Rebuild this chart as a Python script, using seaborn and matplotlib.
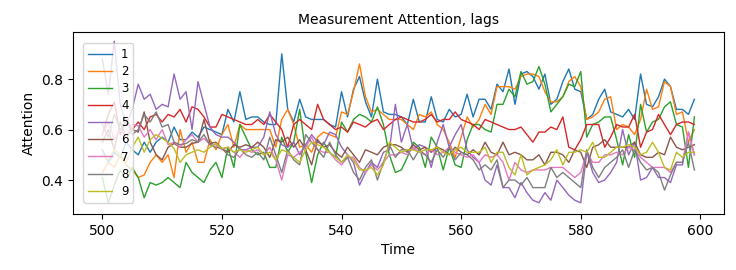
import numpy as np
import pandas as pd
import matplotlib
matplotlib.use("Agg")
from matplotlib import pyplot as plt
import seaborn as sns

# time axis
time = list(range(500, 600))
lags = ["1", "2", "3", "4", "5", "6", "7", "8", "9"]

# attention values per lag
lag1 = [0.52, 0.47, 0.51, 0.49, 0.55, 0.52, 0.50, 0.55, 0.51, 0.55,
        0.57, 0.55, 0.61, 0.56, 0.56, 0.59, 0.57, 0.61, 0.60, 0.59,
        0.58, 0.68, 0.63, 0.75, 0.64, 0.65, 0.65, 0.63, 0.62, 0.62,
        0.90, 0.68, 0.63, 0.72, 0.65, 0.64, 0.64, 0.64, 0.62, 0.61,
        0.75, 0.65, 0.76, 0.81, 0.71, 0.65, 0.80, 0.67, 0.66, 0.66,
        0.65, 0.62, 0.72, 0.63, 0.63, 0.73, 0.64, 0.63, 0.68, 0.65,
        0.66, 0.74, 0.65, 0.72, 0.72, 0.68, 0.78, 0.75, 0.84, 0.70,
        0.82, 0.83, 0.81, 0.76, 0.82, 0.70, 0.72, 0.79, 0.84, 0.76,
        0.75, 0.64, 0.66, 0.72, 0.76, 0.67, 0.66, 0.65, 0.68, 0.64,
        0.82, 0.70, 0.69, 0.73, 0.80, 0.77, 0.68, 0.68, 0.66, 0.72]
lag2 = [0.43, 0.47, 0.45, 0.50, 0.46, 0.44, 0.41, 0.42, 0.47, 0.50,
        0.47, 0.50, 0.41, 0.60, 0.51, 0.55, 0.47, 0.47, 0.56, 0.52,
        0.58, 0.62, 0.53, 0.62, 0.60, 0.60, 0.60, 0.60, 0.60, 0.53,
        0.64, 0.68, 0.62, 0.53, 0.54, 0.51, 0.57, 0.59, 0.58, 0.57,
        0.67, 0.66, 0.75, 0.86, 0.73, 0.67, 0.68, 0.66, 0.64, 0.64,
        0.64, 0.62, 0.60, 0.66, 0.65, 0.67, 0.62, 0.60, 0.55, 0.49,
        0.57, 0.65, 0.61, 0.64, 0.70, 0.66, 0.77, 0.77, 0.77, 0.76,
        0.81, 0.82, 0.82, 0.81, 0.75, 0.71, 0.71, 0.73, 0.79, 0.81,
        0.77, 0.64, 0.65, 0.67, 0.72, 0.73, 0.60, 0.62, 0.61, 0.58,
        0.64, 0.76, 0.68, 0.69, 0.79, 0.77, 0.66, 0.67, 0.55, 0.60]
lag3 = [0.41, 0.31, 0.38, 0.44, 0.40, 0.45, 0.41, 0.33, 0.39, 0.38,
        0.39, 0.41, 0.39, 0.37, 0.47, 0.43, 0.41, 0.39, 0.44, 0.47,
        0.41, 0.53, 0.45, 0.62, 0.57, 0.52, 0.50, 0.51, 0.45, 0.45,
        0.57, 0.51, 0.55, 0.68, 0.51, 0.39, 0.50, 0.55, 0.51, 0.49,
        0.63, 0.59, 0.64, 0.66, 0.65, 0.63, 0.69, 0.62, 0.50, 0.43,
        0.44, 0.49, 0.55, 0.53, 0.45, 0.57, 0.53, 0.44, 0.53, 0.46,
        0.45, 0.56, 0.62, 0.62, 0.60, 0.59, 0.70, 0.70, 0.76, 0.73,
        0.83, 0.78, 0.79, 0.85, 0.78, 0.67, 0.70, 0.73, 0.78, 0.77,
        0.83, 0.57, 0.62, 0.63, 0.65, 0.65, 0.56, 0.46, 0.58, 0.49,
        0.70, 0.59, 0.63, 0.64, 0.69, 0.71, 0.62, 0.61, 0.45, 0.65]
lag4 = [0.58, 0.66, 0.71, 0.58, 0.64, 0.60, 0.63, 0.60, 0.65, 0.66,
        0.63, 0.66, 0.65, 0.68, 0.63, 0.69, 0.68, 0.65, 0.61, 0.61,
        0.66, 0.65, 0.64, 0.63, 0.62, 0.62, 0.64, 0.62, 0.66, 0.63,
        0.60, 0.53, 0.62, 0.64, 0.62, 0.60, 0.70, 0.64, 0.62, 0.60,
        0.61, 0.59, 0.63, 0.62, 0.61, 0.63, 0.64, 0.60, 0.62, 0.64,
        0.65, 0.64, 0.63, 0.63, 0.64, 0.66, 0.63, 0.64, 0.64, 0.67,
        0.64, 0.63, 0.62, 0.60, 0.64, 0.63, 0.62, 0.61, 0.60, 0.60,
        0.61, 0.58, 0.55, 0.59, 0.59, 0.61, 0.60, 0.65, 0.53, 0.52,
        0.56, 0.62, 0.62, 0.62, 0.53, 0.57, 0.62, 0.61, 0.61, 0.66,
        0.53, 0.59, 0.60, 0.66, 0.62, 0.58, 0.62, 0.63, 0.63, 0.62]
lag5 = [0.88, 0.74, 0.95, 0.70, 0.62, 0.68, 0.78, 0.72, 0.74, 0.68,
        0.70, 0.69, 0.82, 0.72, 0.75, 0.60, 0.79, 0.70, 0.61, 0.58,
        0.57, 0.57, 0.55, 0.52, 0.52, 0.53, 0.53, 0.57, 0.67, 0.58,
        0.54, 0.53, 0.55, 0.50, 0.54, 0.58, 0.55, 0.54, 0.59, 0.58,
        0.53, 0.50, 0.47, 0.38, 0.43, 0.47, 0.45, 0.51, 0.52, 0.70,
        0.55, 0.62, 0.52, 0.54, 0.53, 0.45, 0.55, 0.62, 0.53, 0.58,
        0.62, 0.52, 0.49, 0.47, 0.40, 0.38, 0.46, 0.37, 0.37, 0.33,
        0.39, 0.35, 0.32, 0.31, 0.35, 0.32, 0.40, 0.37, 0.34, 0.32,
        0.31, 0.51, 0.43, 0.39, 0.40, 0.43, 0.47, 0.60, 0.50, 0.55,
        0.40, 0.41, 0.45, 0.41, 0.41, 0.39, 0.46, 0.46, 0.59, 0.50]
lag6 = [0.55, 0.60, 0.52, 0.63, 0.57, 0.60, 0.59, 0.67, 0.55, 0.50,
        0.48, 0.53, 0.545, 0.53, 0.53, 0.545, 0.55, 0.64, 0.545, 0.55,
        0.525, 0.51, 0.54, 0.53, 0.54, 0.53, 0.55, 0.53, 0.49, 0.56,
        0.55, 0.57, 0.53, 0.56, 0.52, 0.46, 0.56, 0.53, 0.54, 0.51,
        0.49, 0.53, 0.50, 0.47, 0.52, 0.51, 0.50, 0.53, 0.54, 0.54,
        0.53, 0.51, 0.54, 0.52, 0.53, 0.51, 0.53, 0.52, 0.50, 0.53,
        0.51, 0.50, 0.52, 0.50, 0.55, 0.51, 0.50, 0.55, 0.50, 0.51,
        0.50, 0.48, 0.48, 0.50, 0.46, 0.51, 0.51, 0.50, 0.47, 0.52,
        0.51, 0.45, 0.53, 0.54, 0.56, 0.53, 0.53, 0.53, 0.53, 0.55,
        0.50, 0.49, 0.49, 0.51, 0.50, 0.57, 0.53, 0.52, 0.53, 0.54]
lag7 = [0.58, 0.63, 0.56, 0.60, 0.57, 0.62, 0.615, 0.57, 0.60, 0.56,
        0.60, 0.54, 0.55, 0.53, 0.56, 0.58, 0.55, 0.565, 0.54, 0.54,
        0.52, 0.53, 0.51, 0.49, 0.52, 0.51, 0.52, 0.50, 0.53, 0.48,
        0.40, 0.50, 0.49, 0.51, 0.53, 0.57, 0.52, 0.51, 0.51, 0.48,
        0.46, 0.49, 0.49, 0.45, 0.43, 0.46, 0.44, 0.47, 0.50, 0.50,
        0.51, 0.50, 0.53, 0.51, 0.50, 0.52, 0.50, 0.51, 0.53, 0.51,
        0.50, 0.49, 0.50, 0.47, 0.50, 0.49, 0.50, 0.47, 0.40, 0.47,
        0.44, 0.43, 0.44, 0.44, 0.44, 0.45, 0.45, 0.45, 0.43, 0.41,
        0.43, 0.51, 0.47, 0.47, 0.50, 0.50, 0.51, 0.50, 0.53, 0.52,
        0.49, 0.47, 0.45, 0.45, 0.45, 0.43, 0.47, 0.47, 0.59, 0.50]
lag8 = [0.62, 0.57, 0.66, 0.60, 0.64, 0.58, 0.60, 0.66, 0.63, 0.67,
        0.61, 0.62, 0.55, 0.54, 0.545, 0.56, 0.55, 0.58, 0.54, 0.53,
        0.525, 0.50, 0.49, 0.525, 0.50, 0.49, 0.51, 0.48, 0.57, 0.50,
        0.43, 0.52, 0.48, 0.46, 0.58, 0.55, 0.52, 0.49, 0.55, 0.50,
        0.47, 0.49, 0.43, 0.40, 0.45, 0.48, 0.40, 0.47, 0.54, 0.49,
        0.52, 0.52, 0.48, 0.52, 0.50, 0.47, 0.52, 0.49, 0.53, 0.48,
        0.51, 0.50, 0.48, 0.44, 0.46, 0.44, 0.48, 0.37, 0.40, 0.40,
        0.38, 0.41, 0.37, 0.37, 0.37, 0.45, 0.41, 0.43, 0.41, 0.39,
        0.37, 0.52, 0.45, 0.41, 0.45, 0.47, 0.49, 0.52, 0.45, 0.52,
        0.47, 0.44, 0.45, 0.43, 0.36, 0.42, 0.47, 0.47, 0.55, 0.44]
lag9 = [0.50, 0.48, 0.52, 0.50, 0.47, 0.53, 0.57, 0.51, 0.56, 0.58,
        0.565, 0.55, 0.525, 0.47, 0.50, 0.51, 0.52, 0.51, 0.53, 0.545,
        0.525, 0.53, 0.51, 0.52, 0.51, 0.52, 0.53, 0.50, 0.51, 0.48,
        0.52, 0.51, 0.49, 0.47, 0.52, 0.55, 0.54, 0.53, 0.51, 0.49,
        0.47, 0.50, 0.48, 0.44, 0.44, 0.45, 0.42, 0.46, 0.55, 0.53,
        0.51, 0.52, 0.52, 0.51, 0.52, 0.52, 0.53, 0.51, 0.50, 0.52,
        0.53, 0.51, 0.51, 0.51, 0.53, 0.47, 0.51, 0.51, 0.45, 0.42,
        0.50, 0.42, 0.44, 0.45, 0.46, 0.48, 0.52, 0.46, 0.51, 0.51,
        0.52, 0.51, 0.55, 0.49, 0.49, 0.51, 0.53, 0.53, 0.54, 0.53,
        0.50, 0.51, 0.55, 0.51, 0.45, 0.44, 0.51, 0.49, 0.51, 0.51]

series = [lag1, lag2, lag3, lag4, lag5, lag6, lag7, lag8, lag9]

# long format table for seaborn
df = pd.concat([pd.DataFrame({"Time": time, "Attention": vals, "lag": lab})
                for lab, vals in zip(lags, series)], ignore_index=True)

fig, ax = plt.subplots(figsize=(7.36, 2.7), dpi=100)
fig.subplots_adjust(left=0.0988, right=0.9837, top=0.880, bottom=0.207)

sns.lineplot(data=df, x="Time", y="Attention", hue="lag", hue_order=lags,
             palette="tab10", estimator=None, linewidth=1, ax=ax)

ax.set_ylim(0.265, 0.985)
ax.set_title("Measurement Attention, lags", fontsize=10)
ax.set_xlabel("Time", fontsize=10)
ax.set_ylabel("Attention", fontsize=10)
ax.tick_params(labelsize=10)

# legend in the upper left corner, no title
sns.move_legend(ax, "upper left", title=None, fontsize=8.5,
                borderaxespad=0.9, labelspacing=0.35)

fig.savefig("out.png", dpi=100)
